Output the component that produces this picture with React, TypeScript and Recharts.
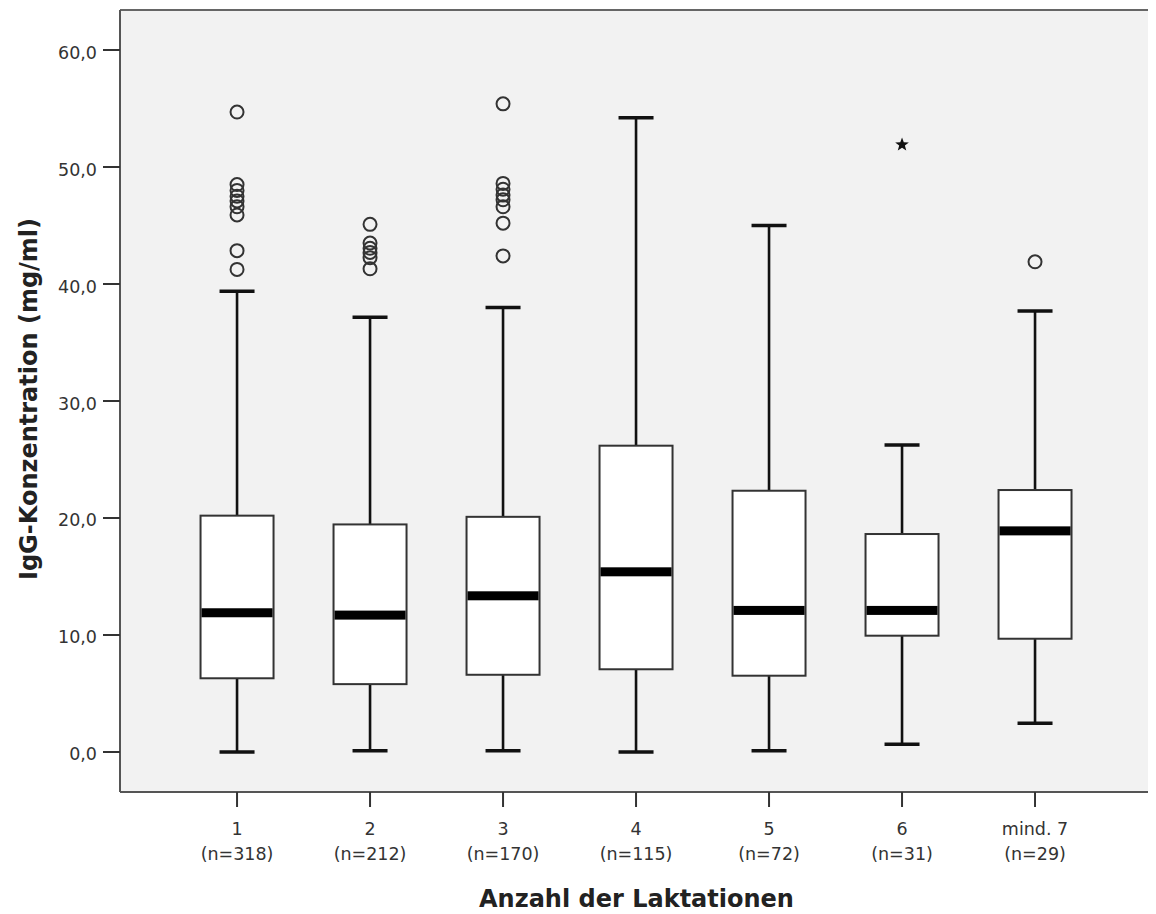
import React from 'react';
import { ComposedChart, Bar, Scatter, XAxis, YAxis, CartesianGrid, ReferenceLine, Label } from 'recharts';

const categories = ['1', '2', '3', '4', '5', '6', 'mind. 7'];
const sampleSizes = ['(n=318)', '(n=212)', '(n=170)', '(n=115)', '(n=72)', '(n=31)', '(n=29)'];
const whiskerLow = [0, 0.1, 0.1, 0, 0.1, 0.66, 2.45];
const quartile1 = [6.3, 5.8, 6.6, 7.07, 6.52, 9.94, 9.68];
const medians = [11.9, 11.7, 13.35, 15.4, 12.1, 12.1, 18.9];
const quartile3 = [20.2, 19.45, 20.1, 26.18, 22.33, 18.63, 22.39];
const whiskerHigh = [39.37, 37.15, 38.0, 54.2, 45.0, 26.24, 37.69];
const outliers: number[][] = [
  [54.7, 48.5, 48.0, 47.5, 47.1, 46.6, 45.9, 42.85, 41.25],
  [45.1, 43.5, 43.05, 42.7, 42.25, 41.3],
  [55.4, 48.6, 48.1, 47.6, 47.2, 46.6, 45.2, 42.4],
  [],
  [],
  [],
  [41.9],
];
const extremes: number[][] = [[], [], [], [], [], [51.95], []];
const yTicks = [0, 10, 20, 30, 40, 50, 60];
const xTicks = [1, 2, 3, 4, 5, 6, 7];
const yDomain: [number, number] = [-3.42, 63.42];
const xDomain: [number, number] = [0.12, 7.887];

const boxData = categories.map((c, i) => ({
  x: i + 1,
  name: c,
  range: [whiskerLow[i], whiskerHigh[i]],
  low: whiskerLow[i],
  q1: quartile1[i],
  median: medians[i],
  q3: quartile3[i],
  high: whiskerHigh[i],
}));
const outlierData = outliers.flatMap((vals, i) => vals.map((v) => ({ x: i + 1, y: v })));
const extremeData = extremes.flatMap((vals, i) => vals.map((v) => ({ x: i + 1, y: v })));

const TICK_FONT = '"DejaVu Sans", Verdana, sans-serif';

function BoxShape(props: any) {
  const { x, y, width, height, payload } = props;
  if (payload == null || x == null) return null;
  const top = Math.min(y, y + height);
  const h = Math.abs(height);
  const { low, high, q1, median, q3 } = payload;
  const toY = (v: number) => top + ((high - v) / (high - low)) * h;
  const cx = x + width / 2;
  const capHalf = 17.5;
  return (
    <g>
      <line x1={cx} x2={cx} y1={toY(high)} y2={toY(q3)} stroke="#111" strokeWidth={2.6} />
      <line x1={cx} x2={cx} y1={toY(q1)} y2={toY(low)} stroke="#111" strokeWidth={2.6} />
      <line x1={cx - capHalf} x2={cx + capHalf} y1={toY(high)} y2={toY(high)} stroke="#111" strokeWidth={3.5} />
      <line x1={cx - capHalf} x2={cx + capHalf} y1={toY(low)} y2={toY(low)} stroke="#111" strokeWidth={3.5} />
      <rect x={x} y={toY(q3)} width={width} height={toY(q1) - toY(q3)} fill="#ffffff" stroke="#333" strokeWidth={2} />
      <rect x={x + 1} y={toY(median) - 4.5} width={width - 2} height={9} fill="#000" />
    </g>
  );
}

function OutlierShape(props: any) {
  const { cx, cy } = props;
  if (cx == null || cy == null) return null;
  return <circle cx={cx} cy={cy} r={6.5} fill="none" stroke="#333" strokeWidth={2} />;
}

function ExtremeShape(props: any) {
  const { cx, cy } = props;
  if (cx == null || cy == null) return null;
  const pts: string[] = [];
  for (let k = 0; k < 10; k++) {
    const r = k % 2 === 0 ? 7.2 : 3.0;
    const a = -Math.PI / 2 + (k * Math.PI) / 5;
    pts.push(`${cx + r * Math.cos(a)},${cy + 0.5 + r * Math.sin(a)}`);
  }
  return <polygon points={pts.join(' ')} fill="#111" />;
}

function XTick(props: any) {
  const { x, y, payload } = props;
  const idx = Math.round(payload.value) - 1;
  return (
    <g>
      <text x={x} y={y + 28} textAnchor="middle" fontFamily={TICK_FONT} fontSize={17.5} fill="#333">
        {categories[idx]}
      </text>
      <text x={x} y={y + 53} textAnchor="middle" fontFamily={TICK_FONT} fontSize={17.5} fill="#333">
        {sampleSizes[idx]}
      </text>
    </g>
  );
}

function YTick(props: any) {
  const { x, y, payload } = props;
  return (
    <text x={x} y={y + 8.5} textAnchor="end" fontFamily={TICK_FONT} fontSize={17.5} fill="#333">
      {Number(payload.value).toFixed(1).replace('.', ',')}
    </text>
  );
}

export default function App() {
  return (
    <ComposedChart
      width={1148}
      height={906}
      data={boxData}
      margin={{ top: 2, right: 3, left: 0, bottom: 32 }}
    >
      <CartesianGrid fill="#f2f2f2" horizontal={false} vertical={false} stroke="none" />
      <XAxis
        dataKey="x"
        type="number"
        domain={xDomain}
        ticks={xTicks}
        allowDataOverflow
        height={90}
        tickSize={15}
        tickMargin={0}
        tickLine={{ stroke: '#333', strokeWidth: 2 }}
        axisLine={{ stroke: '#555', strokeWidth: 2 }}
        tick={<XTick />}
        interval={0}
      >
        <Label
          content={(p: any) => {
            const vb = p.viewBox || {};
            return (
              <text
                x={vb.x + vb.width / 2}
                y={vb.y + 115}
                textAnchor="middle"
                fontFamily={TICK_FONT}
                fontWeight="bold"
                fontSize={24}
                fill="#222"
              >
                Anzahl der Laktationen
              </text>
            );
          }}
        />
      </XAxis>
      <YAxis
        type="number"
        domain={yDomain}
        ticks={yTicks}
        allowDataOverflow
        width={112}
        tickSize={17}
        tickMargin={6}
        tickLine={{ stroke: '#333', strokeWidth: 2 }}
        axisLine={{ stroke: '#555', strokeWidth: 2 }}
        tick={<YTick />}
        interval={0}
      >
        <Label
          content={(p: any) => {
            const vb = p.viewBox || {};
            const cy = vb.y + vb.height / 2 - 2;
            return (
              <text
                x={29}
                y={cy}
                transform={`rotate(-90, 29, ${cy})`}
                textAnchor="middle"
                fontFamily={TICK_FONT}
                fontWeight="bold"
                fontSize={24}
                fill="#222"
              >
                IgG-Konzentration (mg/ml)
              </text>
            );
          }}
        />
      </YAxis>
      <ReferenceLine y={yDomain[1]} stroke="#666" strokeWidth={2} />
      <ReferenceLine x={xDomain[1]} stroke="#666" strokeWidth={2} />
      <Bar dataKey="range" barSize={73} shape={<BoxShape />} isAnimationActive={false} />
      <Scatter data={outlierData} dataKey="y" shape={<OutlierShape />} isAnimationActive={false} />
      <Scatter data={extremeData} dataKey="y" shape={<ExtremeShape />} isAnimationActive={false} />
    </ComposedChart>
  );
}
